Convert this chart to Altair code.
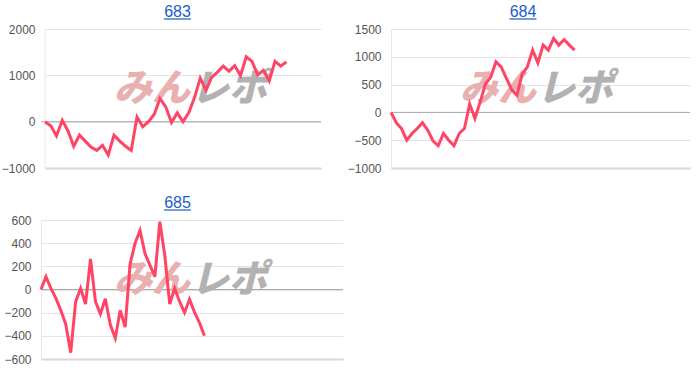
import altair as alt
import pandas as pd

titles = ["683", "684", "685"]
s683 = [0, -90, -310, 30, -200, -530, -290, -420, -550, -620, -510, -720, -290, -420, -530,
        -620, 100, -110, 0, 160, 500, 320, -20, 190, 0, 190, 520, 940, 680, 960, 1070, 1200,
        1090, 1210, 990, 1400, 1300, 1010, 1110, 880, 1300, 1200, 1290]
s684 = [0, -185, -290, -500, -380, -290, -185, -320, -510, -600, -380, -500, -600, -380, -290,
        150, -110, 190, 510, 630, 910, 820, 610, 410, 310, 690, 820, 1120, 890, 1210, 1120,
        1330, 1210, 1310, 1210, 1120]
s685 = [0, 110, 10, -75, -180, -300, -545, -105, 10, -125, 265, -105, -210, -80, -305, -420,
        -180, -325, 220, 400, 510, 310, 210, 110, 585, 295, -125, 10, -105, -200, -85, -195,
        -285, -400]
y_domains = [[-1000, 2000], [-1000, 1500], [-600, 600]]
y_ticks = [[-1000, 0, 1000, 2000], [-1000, -500, 0, 500, 1000, 1500],
           [-600, -400, -200, 0, 200, 400, 600]]
x_max = [48, 57, 61]
watermark = ["みん", "レポ"]

LINE = "#ff4466"
LINK = "#1a5dc8"
FONT = "Arial"


def panel(vals, title, ydom, yticks, xmax, width, ext, wmx, tx, inset=0, lpad=10):
    height = 139
    df = pd.DataFrame({"x": list(range(len(vals))), "y": vals})
    xscale = alt.Scale(domain=[0, xmax], nice=False, range=[inset, width]) if inset else \
        alt.Scale(domain=[0, xmax], nice=False)
    xaxis = alt.Axis(labels=False, ticks=False, grid=False, title=None,
                     domainColor="#d8d8d8", domainWidth=2)
    xenc = alt.X("x:Q", scale=xscale, axis=xaxis)
    yaxis = alt.Axis(values=yticks, title=None, ticks=False, labelPadding=lpad,
                     format="d", labelOverlap=False, domain=(inset == 0),
                     domainColor="#e8e8e8", gridColor="#e4e4e4",
                     minExtent=ext, maxExtent=ext)
    yscale = alt.Scale(domain=ydom, nice=False)
    yenc = alt.Y("y:Q", scale=yscale, axis=yaxis)
    zero = alt.Chart(pd.DataFrame({"y": [0]})).mark_rule(color="#aaaaaa").encode(
        y=alt.Y("y:Q", scale=yscale, axis=yaxis))
    layers = [zero]
    if inset:
        vline = alt.Chart(pd.DataFrame({"x": [0]})).mark_rule(color="#e8e8e8").encode(
            x=alt.X("x:Q", scale=xscale, axis=xaxis))
        layers.append(vline)
    wm1 = alt.Chart(pd.DataFrame({"t": [watermark[0]]})).mark_text(
        font="Noto Sans CJK JP", fontSize=38, fontWeight=900, fontStyle="italic",
        color="#e9b0b0", align="right", baseline="middle", dx=-1
    ).encode(text="t:N", x=alt.value(wmx), y=alt.value(61))
    wm2 = alt.Chart(pd.DataFrame({"t": [watermark[1]]})).mark_text(
        font="Noto Sans CJK JP", fontSize=38, fontWeight=900, fontStyle="italic",
        color="#b2b2b2", align="left", baseline="middle", dx=0
    ).encode(text="t:N", x=alt.value(wmx), y=alt.value(61))
    tdf = pd.DataFrame({"t": [title]})
    ttl = alt.Chart(tdf).mark_text(
        font=FONT, fontSize=16, color=LINK, align="center", baseline="alphabetic"
    ).encode(text="t:N", x=alt.value(tx), y=alt.value(-12))
    underline = alt.Chart(tdf).mark_rule(color=LINK, strokeWidth=1.2).encode(
        x=alt.value(tx - 13.5), x2=alt.value(tx + 13.5), y=alt.value(-10))
    line = alt.Chart(df).mark_line(color=LINE, strokeWidth=3).encode(x=xenc, y=yenc)
    layers += [wm1, wm2, ttl, underline, line]
    return alt.layer(*layers).properties(width=width, height=height)


p1 = panel(s683, titles[0], y_domains[0], y_ticks[0], x_max[0], 280, 37, 150, 136.5,
           inset=4, lpad=6)
p2 = panel(s684, titles[1], y_domains[1], y_ticks[1], x_max[1], 299, 41, 146, 132)
p3 = panel(s685, titles[2], y_domains[2], y_ticks[2], x_max[2], 302, 37, 150, 136.5)

chart = alt.vconcat(alt.hconcat(p1, p2, spacing=25), p3, spacing=21).properties(
    padding={"left": 1, "top": 4, "right": 0, "bottom": 0}
).configure_view(stroke=None).configure_axis(
    labelFont=FONT, labelFontSize=12, labelColor="#555555", labelOverlap=False
)

chart.save("out.html", embed_options={"renderer": "svg", "actions": False})
